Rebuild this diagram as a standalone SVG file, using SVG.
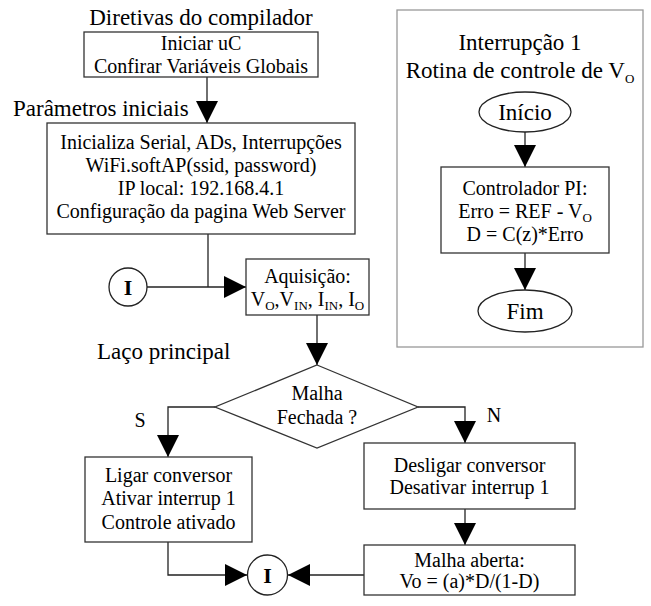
<svg xmlns="http://www.w3.org/2000/svg" width="651" height="606" viewBox="0 0 651 606">
<defs>
<marker id="ah" viewBox="0 0 22 22" refX="22" refY="11" markerWidth="22" markerHeight="22" orient="auto" markerUnits="userSpaceOnUse">
<path d="M0,0 L22,11 L0,22 Z" fill="#000"/>
</marker>
</defs>
<style>
text{font-family:"Liberation Serif","Times New Roman",serif;fill:#000}
.t{font-size:23px}
.b{font-size:20px;text-anchor:middle}
.s{font-size:13px}
.ci{font-size:22px;font-weight:bold;text-anchor:middle}
.box{fill:#fff;stroke:#333;stroke-width:1.3}
.c{fill:none;stroke:#222;stroke-width:1.3}
.ca{fill:none;stroke:#222;stroke-width:1.3;marker-end:url(#ah)}
</style>
<rect width="651" height="606" fill="#fff"/>

<g id="labels">
<text class="t" x="201" y="25" text-anchor="middle">Diretivas do compilador</text>
<text class="t" x="13" y="116">Parâmetros iniciais</text>
<text class="t" x="97" y="359">Laço principal</text>
<text class="b" x="140" y="427">S</text>
<text class="b" x="494" y="422">N</text>
</g>

<g id="connectors">
<path class="ca" d="M207,77 V123"/>
<path class="c" d="M208,234 V287"/>
<path class="ca" d="M147,287 H246"/>
<path class="ca" d="M317,315 V365"/>
<path class="ca" d="M215,407 H168 V457"/>
<path class="ca" d="M418,407 H465 V443"/>
<path class="ca" d="M465,509 V545"/>
<path class="ca" d="M168,542 V575 H247"/>
<path class="ca" d="M364,575 H288"/>
<path class="ca" d="M525,132 V167"/>
<path class="ca" d="M525,253 V290"/>
</g>

<g id="n-inicio">
<rect class="box" x="84" y="32" width="234" height="45"/>
<text class="b" x="201" y="50">Iniciar uC</text>
<text class="b" x="201" y="73">Confirar Variáveis Globais</text>
</g>

<g id="n-params">
<rect class="box" x="47" y="123" width="308" height="111"/>
<text class="b" x="201" y="149">Inicializa Serial, ADs, Interrupções</text>
<text class="b" x="201" y="172">WiFi.softAP(ssid, password)</text>
<text class="b" x="201" y="195">IP local: 192.168.4.1</text>
<text class="b" x="201" y="218">Configuração da pagina Web Server</text>
</g>

<g id="n-i1">
<circle cx="128" cy="287" r="19" fill="#fff" stroke="#222" stroke-width="1.3"/>
<text class="ci" x="128" y="295">I</text>
</g>

<g id="n-aquisicao">
<rect class="box" x="246" y="259" width="123" height="56"/>
<text class="b" x="307.5" y="283">Aquisição:</text>
<text class="b" x="307.5" y="306">V<tspan class="s" dy="4">O</tspan><tspan dy="-4">,V</tspan><tspan class="s" dy="4">IN</tspan><tspan dy="-4">, I</tspan><tspan class="s" dy="4">IN</tspan><tspan dy="-4">, I</tspan><tspan class="s" dy="4">O</tspan></text>
</g>

<g id="n-decisao">
<polygon class="box" points="317,365 418,407 317,448 215,407"/>
<text class="b" x="317" y="400">Malha</text>
<text class="b" x="317" y="424">Fechada ?</text>
</g>

<g id="n-ligar">
<rect class="box" x="85" y="457" width="167" height="85"/>
<text class="b" x="168.5" y="482">Ligar conversor</text>
<text class="b" x="168.5" y="505">Ativar interrup 1</text>
<text class="b" x="168.5" y="529">Controle ativado</text>
</g>

<g id="n-desligar">
<rect class="box" x="364" y="443" width="211" height="66"/>
<text class="b" x="469.5" y="472">Desligar conversor</text>
<text class="b" x="469.5" y="494">Desativar interrup 1</text>
</g>

<g id="n-aberta">
<rect class="box" x="364" y="545" width="211" height="50"/>
<text class="b" x="469.5" y="567">Malha aberta:</text>
<text class="b" x="469.5" y="588">Vo = (a)*D/(1-D)</text>
</g>

<g id="n-i2">
<circle cx="267.5" cy="575" r="20" fill="#fff" stroke="#222" stroke-width="1.3"/>
<text class="ci" x="267.5" y="583">I</text>
</g>

<g id="n-panel">
<rect x="397" y="10" width="246" height="337" fill="none" stroke="#999" stroke-width="1.3"/>
<text class="t" x="520" y="50" text-anchor="middle">Interrupção 1</text>
<text class="t" x="520" y="78" text-anchor="middle">Rotina de controle de V<tspan class="s" dy="5">O</tspan></text>
</g>

<g id="n-inicio-int">
<ellipse cx="525" cy="112" rx="46" ry="20" fill="#fff" stroke="#222" stroke-width="1.3"/>
<text class="t" x="525" y="120" text-anchor="middle">Início</text>
</g>

<g id="n-pi">
<rect class="box" x="441" y="167" width="168" height="86"/>
<text class="b" x="525" y="195">Controlador PI:</text>
<text class="b" x="525" y="218">Erro = REF - V<tspan class="s" dy="4">O</tspan></text>
<text class="b" x="525" y="241">D = C(z)*Erro</text>
</g>

<g id="n-fim">
<ellipse cx="525" cy="311" rx="47" ry="21" fill="#fff" stroke="#222" stroke-width="1.3"/>
<text class="t" x="525" y="319" text-anchor="middle">Fim</text>
</g>
</svg>
